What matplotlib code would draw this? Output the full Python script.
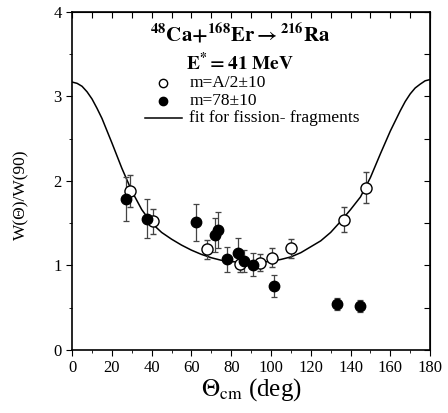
import matplotlib
matplotlib.use("Agg")
import matplotlib.pyplot as plt
from matplotlib.ticker import MultipleLocator

# m = A/2 +- 10 (open circles)
open_theta = [29, 40.5, 68, 84.5, 94.5, 100.5, 110, 136.5, 148]
open_w = [1.88, 1.52, 1.19, 1.02, 1.03, 1.09, 1.20, 1.54, 1.92]
open_err = [0.19, 0.15, 0.11, 0.10, 0.10, 0.11, 0.11, 0.15, 0.18]

# m = 78 +- 10 (filled circles)
full_theta = [27, 37.5, 62.5, 72, 73.5, 78, 83.5, 86.5, 91, 101.5, 133, 145]
full_w = [1.79, 1.55, 1.51, 1.36, 1.42, 1.07, 1.15, 1.05, 1.01, 0.76, 0.54, 0.52]
full_err = [0.26, 0.23, 0.22, 0.20, 0.21, 0.15, 0.17, 0.13, 0.14, 0.13, 0.07, 0.07]

# fit curve
fit_theta = [0, 2.5, 5, 7.5, 10, 12.5, 15, 20, 25, 30, 35, 40, 45, 50, 55, 60, 65,
             70, 75, 80, 85, 90, 95, 100, 105, 110, 115, 120, 125, 130, 135, 140,
             145, 150, 155, 160, 165, 167.5, 170, 172.5, 175, 177.5, 180]
fit_w = [3.17, 3.155, 3.12, 3.055, 2.97, 2.86, 2.74, 2.45, 2.15, 1.88, 1.66, 1.50,
         1.39, 1.31, 1.24, 1.18, 1.13, 1.09, 1.06, 1.045, 1.035, 1.03, 1.035, 1.05,
         1.07, 1.10, 1.15, 1.22, 1.29, 1.39, 1.52, 1.66, 1.81, 2.04, 2.32, 2.59,
         2.83, 2.94, 3.03, 3.10, 3.145, 3.185, 3.20]

plt.rcParams['font.family'] = ['Liberation Serif', 'DejaVu Serif']
plt.rcParams['mathtext.fontset'] = 'stix'

fig = plt.figure(figsize=(4.48, 4.13), dpi=100)
ax = fig.add_axes([0.161, 0.153, 0.799, 0.818])

ax.plot(fit_theta, fit_w, color='black', lw=1.1)
ax.errorbar(open_theta, open_w, yerr=open_err, fmt='o', mfc='white', mec='black',
            ms=8, mew=1.0, ecolor='#444444', elinewidth=0.9, capsize=2.5, capthick=0.9)
ax.errorbar(full_theta, full_w, yerr=full_err, fmt='o', color='black',
            ms=7.5, ecolor='#444444', elinewidth=0.9, capsize=2.5, capthick=0.9)

ax.set_xlim(0, 180)
ax.set_ylim(0, 4)
ax.xaxis.set_major_locator(MultipleLocator(20))
ax.xaxis.set_minor_locator(MultipleLocator(10))
ax.yaxis.set_major_locator(MultipleLocator(1))
ax.yaxis.set_minor_locator(MultipleLocator(0.5))
ax.tick_params(which='both', direction='out', labelsize=12)
ax.tick_params(which='major', length=4)
ax.tick_params(which='minor', length=2.5)
# inward ticks on top and right
ax2 = ax.secondary_xaxis('top')
ax2.xaxis.set_major_locator(MultipleLocator(10))
ax2.tick_params(direction='in', length=4, labeltop=False)
ay2 = ax.secondary_yaxis('right')
ay2.yaxis.set_major_locator(MultipleLocator(0.5))
ay2.tick_params(direction='in', length=4, labelright=False)
for sp in ax.spines.values():
    sp.set_linewidth(1.2)

ax.set_ylabel('W(\u0398)/W(90)', fontsize=12.5)
ax.yaxis.set_label_coords(-0.12, 0.46)
ax.set_xlabel(r'$\Theta_{\rm cm}$ (deg)', fontsize=18, labelpad=0)

ax.text(0.47, 0.93, r'$\mathbf{^{48}Ca{+}^{168}Er{\rightarrow}^{216}Ra}$',
        transform=ax.transAxes, ha='center', va='center', fontsize=15)
ax.text(0.47, 0.85, r'$\mathbf{E^{*}{=}41\ MeV}$',
        transform=ax.transAxes, ha='center', va='center', fontsize=14)

# legend drawn by hand
ax.plot([45.5], [3.16], 'o', mfc='white', mec='black', ms=6)
ax.plot([45.5], [2.95], 'o', color='black', ms=6)
ax.plot([36.5, 55.5], [2.75, 2.75], color='black', lw=1.1)
ax.text(59, 3.16, 'm=A/2\u00b110', fontsize=12.5, va='center')
ax.text(59, 2.95, 'm=78\u00b110', fontsize=12.5, va='center')
ax.text(59, 2.75, 'fit for fission- fragments', fontsize=12.5, va='center')

fig.savefig('out.png', dpi=100)
